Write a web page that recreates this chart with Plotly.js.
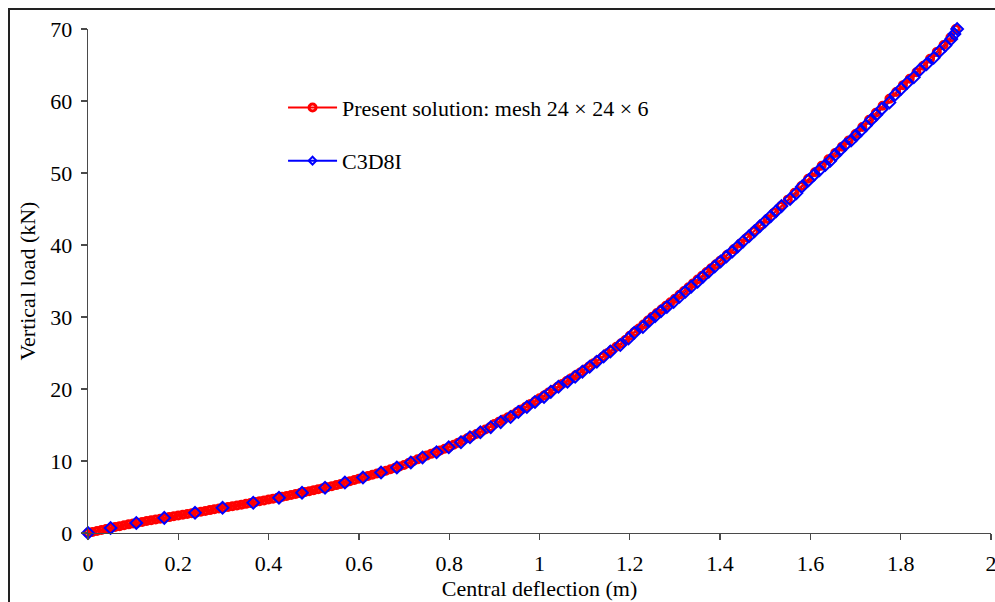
<!DOCTYPE html>
<html>
<head>
<meta charset="utf-8">
<script src="https://cdn.plot.ly/plotly-3.0.1.min.js"></script>
<style>
  html, body { margin: 0; padding: 0; background: #fff; overflow: hidden; }
  #chart { width: 995px; height: 602px; }
  #frame { position: absolute; left: 8px; top: 8px; width: 1100px; height: 800px;
           border-top: 2px solid #222; border-left: 2px solid #222; pointer-events: none; }
</style>
</head>
<body>
<div id="chart"></div>
<div id="frame"></div>
<script>
// ---- Data ----
const seriesNames = ["Present solution: mesh 24 \u00d7 24 \u00d7 6", "C3D8I"];

// Present solution (red, dense points)
const redX = [
  0.00, 0.01, 0.02, 0.03, 0.04, 0.05, 0.06, 0.07, 0.08, 0.09,
  0.10, 0.11, 0.12, 0.13, 0.14, 0.15, 0.16, 0.17, 0.18, 0.19,
  0.20, 0.21, 0.22, 0.23, 0.24, 0.25, 0.26, 0.27, 0.28, 0.29,
  0.30, 0.31, 0.32, 0.33, 0.34, 0.35, 0.36, 0.37, 0.38, 0.39,
  0.40, 0.41, 0.42, 0.43, 0.44, 0.45, 0.46, 0.47, 0.48, 0.49,
  0.50, 0.51, 0.52, 0.53, 0.54, 0.55, 0.56, 0.57, 0.58, 0.59,
  0.60, 0.61, 0.62, 0.63, 0.64, 0.65, 0.66, 0.67, 0.68, 0.69,
  0.70, 0.71, 0.72, 0.73, 0.74, 0.75, 0.76, 0.77, 0.78, 0.79,
  0.80, 0.81, 0.82, 0.83, 0.84, 0.85, 0.86, 0.87, 0.88, 0.89,
  0.90, 0.91, 0.92, 0.93, 0.94, 0.95, 0.96, 0.97, 0.98, 0.99,
  1.00, 1.01, 1.02, 1.03, 1.04, 1.05, 1.06, 1.07, 1.08, 1.09,
  1.10, 1.11, 1.12, 1.13, 1.14, 1.15, 1.16, 1.17, 1.18, 1.19,
  1.20, 1.21, 1.22, 1.23, 1.24, 1.25, 1.26, 1.27, 1.28, 1.29,
  1.30, 1.31, 1.32, 1.33, 1.34, 1.35, 1.36, 1.37, 1.38, 1.39,
  1.40, 1.415, 1.43, 1.445, 1.46, 1.475, 1.49, 1.505, 1.52, 1.535,
  1.55, 1.565, 1.58, 1.595, 1.61, 1.625, 1.64, 1.655, 1.67, 1.685,
  1.70, 1.715, 1.73, 1.745, 1.76, 1.775, 1.79, 1.805, 1.82, 1.835,
  1.85, 1.865, 1.88, 1.895, 1.91, 1.922
];
const redY = [
  0.00, 0.14, 0.28, 0.42, 0.56, 0.70, 0.83, 0.95, 1.07, 1.20,
  1.32, 1.43, 1.54, 1.66, 1.77, 1.88, 1.99, 2.10, 2.21, 2.32,
  2.43, 2.53, 2.64, 2.74, 2.85, 2.95, 3.06, 3.18, 3.29, 3.41,
  3.52, 3.62, 3.72, 3.83, 3.94, 4.05, 4.17, 4.29, 4.41, 4.53,
  4.65, 4.77, 4.90, 5.02, 5.15, 5.28, 5.41, 5.54, 5.68, 5.81,
  5.95, 6.09, 6.23, 6.37, 6.51, 6.65, 6.82, 7.00, 7.18, 7.36,
  7.55, 7.73, 7.91, 8.09, 8.27, 8.45, 8.65, 8.85, 9.05, 9.25,
  9.45, 9.71, 9.97, 10.23, 10.49, 10.75, 10.99, 11.23, 11.47, 11.71,
  11.95, 12.25, 12.55, 12.85, 13.15, 13.45, 13.76, 14.07, 14.38, 14.69,
  15.15, 15.44, 15.75, 16.07, 16.42, 16.80, 17.17, 17.55, 17.93, 18.31,
  18.70, 19.10, 19.50, 19.90, 20.30, 20.70, 21.10, 21.50, 21.90, 22.30,
  22.70, 23.14, 23.59, 24.04, 24.49, 24.95, 25.41, 25.87, 26.33, 26.79,
  27.40, 27.90, 28.40, 28.95, 29.50, 30.05, 30.55, 31.05, 31.55, 32.05,
  32.55, 33.08, 33.61, 34.14, 34.67, 35.20, 35.72, 36.24, 36.76, 37.28,
  37.80, 38.60, 39.40, 40.20, 41.05, 41.90, 42.75, 43.60, 44.50, 45.40,
  46.30, 47.25, 48.20, 49.20, 50.10, 51.00, 51.90, 52.79, 53.66, 54.53,
  55.40, 56.39, 57.38, 58.37, 59.34, 60.30, 61.26, 62.20, 63.10, 64.00,
  64.90, 65.86, 66.82, 67.78, 68.80, 70.00
];

// C3D8I (blue diamonds)
const blueX = [
  0, 0.050, 0.107, 0.169, 0.237, 0.298, 0.366, 0.423, 0.474, 0.525,
  0.569, 0.609, 0.649, 0.684, 0.715, 0.741, 0.772, 0.799, 0.826, 0.846,
  0.869, 0.892, 0.914, 0.936, 0.953, 0.972, 0.990, 1.010, 1.025, 1.042,
  1.062, 1.079, 1.095, 1.111, 1.127, 1.142, 1.157, 1.179, 1.197, 1.210,
  1.229, 1.244, 1.256, 1.269, 1.282, 1.297, 1.310, 1.323, 1.336, 1.350,
  1.362, 1.375, 1.388, 1.401, 1.414, 1.427, 1.439, 1.451, 1.464, 1.476,
  1.488, 1.500, 1.512, 1.524, 1.536, 1.555, 1.569, 1.581, 1.596, 1.609,
  1.620, 1.633, 1.644, 1.655, 1.666, 1.677, 1.690, 1.701, 1.712, 1.723,
  1.735, 1.746, 1.758, 1.775, 1.788, 1.801, 1.814, 1.829, 1.842, 1.857,
  1.873, 1.886, 1.899, 1.912, 1.919, 1.925
];
const blueY = [
  0, 0.7, 1.4, 2.1, 2.8, 3.5, 4.2, 4.9, 5.6, 6.3,
  7.0, 7.7, 8.4, 9.1, 9.8, 10.5, 11.2, 11.9, 12.6, 13.3,
  14.0, 14.7, 15.4, 16.1, 16.8, 17.5, 18.2, 18.9, 19.6, 20.3,
  21.0, 21.7, 22.4, 23.1, 23.8, 24.5, 25.2, 26.1, 27.0, 27.8,
  28.6, 29.5, 30.1, 30.8, 31.4, 32.1, 32.8, 33.5, 34.2, 34.9,
  35.6, 36.3, 37.0, 37.7, 38.4, 39.1, 39.8, 40.5, 41.2, 41.9,
  42.6, 43.3, 44.0, 44.7, 45.4, 46.4, 47.2, 48.1, 49.0, 49.8,
  50.4, 51.1, 51.7, 52.5, 53.2, 53.9, 54.5, 55.2, 55.9, 56.6,
  57.4, 58.1, 58.9, 59.8, 60.9, 61.7, 62.5, 63.3, 64.3, 65.1,
  66.0, 66.9, 67.7, 68.6, 69.3, 70.0
];

const xTickVals = [0, 0.2, 0.4, 0.6, 0.8, 1, 1.2, 1.4, 1.6, 1.8, 2];
const xTickText = ["0", "0.2", "0.4", "0.6", "0.8", "1", "1.2", "1.4", "1.6", "1.8", "2"];
const yTickVals = [0, 10, 20, 30, 40, 50, 60, 70];

const xTitle = "Central deflection (m)";
const yTitle = "Vertical load (kN)";

// ---- Styles ----
const RED = "#FF0000", BLUE = "#0000FF";
const FONT = "'Liberation Serif', 'Times New Roman', serif";

const traces = [
  { // blue connecting line (drawn underneath, as in the original)
    x: blueX, y: blueY, type: "scatter", mode: "lines",
    line: { color: BLUE, width: 1.5 }, showlegend: false, hoverinfo: "skip"
  },
  { // present solution
    x: redX, y: redY, type: "scatter", mode: "lines+markers", name: seriesNames[0],
    line: { color: RED, width: 2 },
    marker: { symbol: "circle-open", size: 7, color: RED, line: { color: RED, width: 3 } },
    cliponaxis: false, legend: "legend"
  },
  { // C3D8I markers on top
    x: blueX, y: blueY, type: "scatter", mode: "markers", name: seriesNames[1],
    marker: { symbol: "diamond-open", size: 9, color: BLUE, line: { color: BLUE, width: 2 } },
    cliponaxis: false, showlegend: false
  },
  { // legend entry for C3D8I (line + marker)
    x: [null], y: [null], type: "scatter", mode: "lines+markers", name: seriesNames[1],
    line: { color: BLUE, width: 2 },
    marker: { symbol: "diamond-open", size: 6, color: BLUE, line: { color: BLUE, width: 2 } },
    legend: "legend2"
  }
];

const axisCommon = {
  showgrid: false, zeroline: false, showline: true,
  linecolor: "#4a4a4a", linewidth: 1.3,
  ticks: "outside", ticklen: 6, tickwidth: 1.3, tickcolor: "#4a4a4a",
  ticklabeloverflow: "allow",
  tickfont: { family: FONT, size: 22, color: "#000" }
};

const legendCommon = {
  font: { family: FONT, size: 22, color: "#000" },
  bgcolor: "rgba(0,0,0,0)", borderwidth: 0,
  itemwidth: 49, xanchor: "left", yanchor: "middle"
};

const layout = {
  width: 995, height: 602,
  margin: { l: 88, r: 4, t: 29, b: 69 },
  paper_bgcolor: "#fff", plot_bgcolor: "#fff",
  font: { family: FONT, color: "#000" },
  xaxis: Object.assign({}, axisCommon, {
    range: [0, 2], tickmode: "array", tickvals: xTickVals, ticktext: xTickText,
    ticklabelstandoff: 4,
    title: { text: xTitle, font: { family: FONT, size: 22, color: "#000" }, standoff: 0 }
  }),
  yaxis: Object.assign({}, axisCommon, {
    range: [0, 70], tickmode: "array", tickvals: yTickVals,
    ticklabelstandoff: 4,
    title: { text: yTitle, font: { family: FONT, size: 22, color: "#000" }, standoff: 8 }
  }),
  showlegend: true,
  legend: Object.assign({}, legendCommon, { x: 0.216, y: 0.8437 }),
  legend2: Object.assign({}, legendCommon, { x: 0.216, y: 0.7384 })
};

Plotly.newPlot("chart", traces, layout, { displayModeBar: false, staticPlot: true });
</script>
</body>
</html>
